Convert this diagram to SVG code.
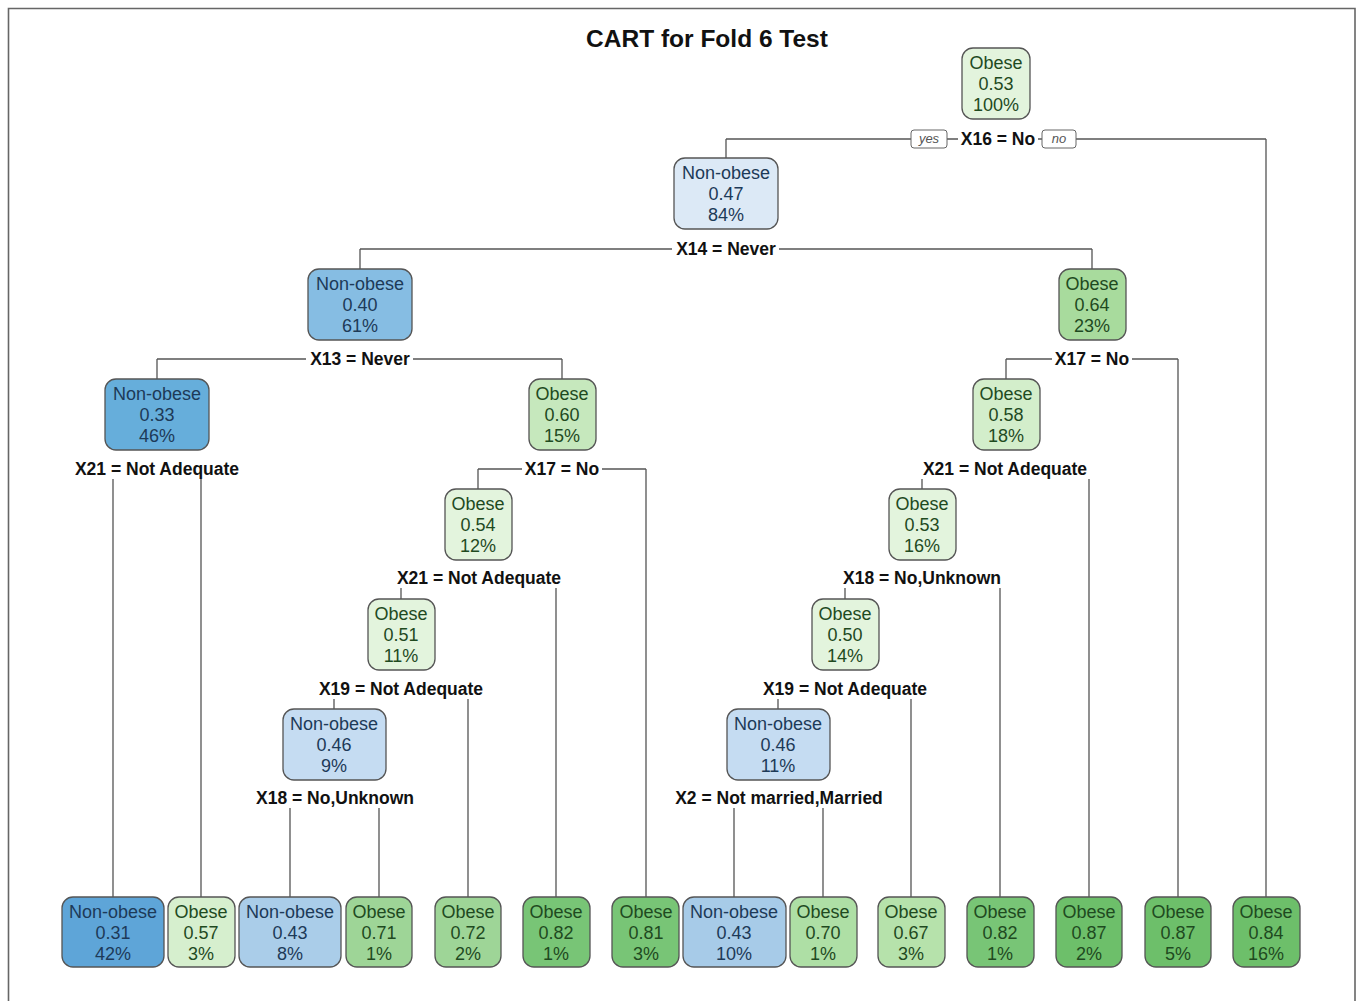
<svg xmlns="http://www.w3.org/2000/svg" width="1360" height="1001" viewBox="0 0 1360 1001">
<style>
.box{stroke:#555;stroke-width:1.3}
.tn{font-family:"Liberation Sans",Arial,sans-serif;font-size:18px;fill:#1d3a58;text-anchor:middle}
.to{font-family:"Liberation Sans",Arial,sans-serif;font-size:18px;fill:#1f4a1f;text-anchor:middle}
.split{font-family:"Liberation Sans",Arial,sans-serif;font-size:17.5px;font-weight:bold;fill:#111;text-anchor:middle}
.lbg{fill:#fff;stroke:none}
.edge{stroke:#555;stroke-width:1.3;fill:none}
.yn{fill:#fff;stroke:#666;stroke-width:1}
.ynt{font-family:"Liberation Sans",Arial,sans-serif;font-size:13px;font-style:italic;fill:#555;text-anchor:middle}
.title{font-family:"Liberation Sans",Arial,sans-serif;font-size:24.5px;font-weight:bold;fill:#111;text-anchor:middle}
</style>
<rect x="0" y="0" width="1360" height="1001" fill="#fff"/>
<path d="M8.5 1001 V8.5 H1355 V1001" fill="none" stroke="#666" stroke-width="1.6"/>
<text class="title" x="707" y="47">CART for Fold 6 Test</text>

<g id="connectors">
<path class="edge" d="M726 139 H1266 M726 139 V158 M1266 139 V897"/>
<path class="edge" d="M360 249 H1092 M360 249 V269 M1092 249 V269"/>
<path class="edge" d="M157 359 H562 M157 359 V379 M562 359 V379"/>
<path class="edge" d="M1006 359 H1178 M1006 359 V379 M1178 359 V897"/>
<path class="edge" d="M113 469 H201 M113 469 V897 M201 469 V897"/>
<path class="edge" d="M478 469 H646 M478 469 V489 M646 469 V897"/>
<path class="edge" d="M922 469 H1089 M922 469 V489 M1089 469 V897"/>
<path class="edge" d="M401 578 H556 M401 578 V599 M556 578 V897"/>
<path class="edge" d="M845 578 H1000 M845 578 V599 M1000 578 V897"/>
<path class="edge" d="M334 689 H468 M334 689 V709 M468 689 V897"/>
<path class="edge" d="M778 689 H911 M778 689 V709 M911 689 V897"/>
<path class="edge" d="M290 798 H379 M290 798 V897 M379 798 V897"/>
<path class="edge" d="M734 798 H823 M734 798 V897 M823 798 V897"/>
<g id="split-labels">
<rect class="lbg" x="958" y="129" width="80" height="20"/><text class="split" x="998" y="145">X16 = No</text>
<rect class="yn" x="911" y="130" width="36" height="18" rx="3"/><text class="ynt" x="929" y="143">yes</text>
<rect class="yn" x="1042" y="130" width="34" height="18" rx="3"/><text class="ynt" x="1059" y="143">no</text>
<rect class="lbg" x="672" y="239" width="107" height="20"/><text class="split" x="726" y="255">X14 = Never</text>
<rect class="lbg" x="306" y="349" width="107" height="20"/><text class="split" x="360" y="365">X13 = Never</text>
<rect class="lbg" x="1052" y="349" width="80" height="20"/><text class="split" x="1092" y="365">X17 = No</text>
<rect class="lbg" x="72" y="459" width="170" height="20"/><text class="split" x="157" y="475">X21 = Not Adequate</text>
<rect class="lbg" x="522" y="459" width="80" height="20"/><text class="split" x="562" y="475">X17 = No</text>
<rect class="lbg" x="920" y="459" width="170" height="20"/><text class="split" x="1005" y="475">X21 = Not Adequate</text>
<rect class="lbg" x="394" y="568" width="170" height="20"/><text class="split" x="479" y="584">X21 = Not Adequate</text>
<rect class="lbg" x="840" y="568" width="164" height="20"/><text class="split" x="922" y="584">X18 = No,Unknown</text>
<rect class="lbg" x="316" y="679" width="170" height="20"/><text class="split" x="401" y="695">X19 = Not Adequate</text>
<rect class="lbg" x="760" y="679" width="170" height="20"/><text class="split" x="845" y="695">X19 = Not Adequate</text>
<rect class="lbg" x="253" y="788" width="164" height="20"/><text class="split" x="335" y="804">X18 = No,Unknown</text>
<rect class="lbg" x="670" y="788" width="218" height="20"/><text class="split" x="779" y="804">X2 = Not married,Married</text>
</g>
</g>

<g id="n1"><rect class="box" x="962" y="48" width="68" height="71" rx="11" fill="#e3f4dd"/><text class="to"><tspan x="996" y="69">Obese</tspan><tspan x="996" y="90">0.53</tspan><tspan x="996" y="111">100%</tspan></text></g>
<g id="n2"><rect class="box" x="674" y="158" width="104" height="71" rx="11" fill="#dce9f6"/><text class="tn"><tspan x="726" y="179">Non-obese</tspan><tspan x="726" y="200">0.47</tspan><tspan x="726" y="221">84%</tspan></text></g>
<g id="n3"><rect class="box" x="308" y="269" width="104" height="71" rx="11" fill="#86bde3"/><text class="tn"><tspan x="360" y="290">Non-obese</tspan><tspan x="360" y="311">0.40</tspan><tspan x="360" y="332">61%</tspan></text></g>
<g id="n4"><rect class="box" x="1059" y="269" width="67" height="71" rx="11" fill="#a8db9d"/><text class="to"><tspan x="1092" y="290">Obese</tspan><tspan x="1092" y="311">0.64</tspan><tspan x="1092" y="332">23%</tspan></text></g>
<g id="n5"><rect class="box" x="105" y="379" width="104" height="71" rx="11" fill="#66aedb"/><text class="tn"><tspan x="157" y="400">Non-obese</tspan><tspan x="157" y="421">0.33</tspan><tspan x="157" y="442">46%</tspan></text></g>
<g id="n6"><rect class="box" x="529" y="379" width="67" height="71" rx="11" fill="#c6e8bd"/><text class="to"><tspan x="562" y="400">Obese</tspan><tspan x="562" y="421">0.60</tspan><tspan x="562" y="442">15%</tspan></text></g>
<g id="n7"><rect class="box" x="973" y="379" width="67" height="71" rx="11" fill="#d3eecb"/><text class="to"><tspan x="1006" y="400">Obese</tspan><tspan x="1006" y="421">0.58</tspan><tspan x="1006" y="442">18%</tspan></text></g>
<g id="n8"><rect class="box" x="445" y="489" width="67" height="71" rx="11" fill="#e3f4dd"/><text class="to"><tspan x="478" y="510">Obese</tspan><tspan x="478" y="531">0.54</tspan><tspan x="478" y="552">12%</tspan></text></g>
<g id="n9"><rect class="box" x="889" y="489" width="67" height="71" rx="11" fill="#e3f4dd"/><text class="to"><tspan x="922" y="510">Obese</tspan><tspan x="922" y="531">0.53</tspan><tspan x="922" y="552">16%</tspan></text></g>
<g id="n10"><rect class="box" x="368" y="599" width="67" height="71" rx="11" fill="#e3f4dd"/><text class="to"><tspan x="401" y="620">Obese</tspan><tspan x="401" y="641">0.51</tspan><tspan x="401" y="662">11%</tspan></text></g>
<g id="n11"><rect class="box" x="812" y="599" width="67" height="71" rx="11" fill="#e3f4dd"/><text class="to"><tspan x="845" y="620">Obese</tspan><tspan x="845" y="641">0.50</tspan><tspan x="845" y="662">14%</tspan></text></g>
<g id="n12"><rect class="box" x="283" y="709" width="103" height="71" rx="11" fill="#c5dcf2"/><text class="tn"><tspan x="334" y="730">Non-obese</tspan><tspan x="334" y="751">0.46</tspan><tspan x="334" y="772">9%</tspan></text></g>
<g id="n13"><rect class="box" x="727" y="709" width="103" height="71" rx="11" fill="#c5dcf2"/><text class="tn"><tspan x="778" y="730">Non-obese</tspan><tspan x="778" y="751">0.46</tspan><tspan x="778" y="772">11%</tspan></text></g>

<g id="leaf1"><rect class="box" x="62" y="897" width="102" height="70" rx="11" fill="#5ea5d8"/><text class="tn"><tspan x="113" y="918">Non-obese</tspan><tspan x="113" y="939">0.31</tspan><tspan x="113" y="960">42%</tspan></text></g>
<g id="leaf2"><rect class="box" x="168" y="897" width="67" height="70" rx="11" fill="#d6efce"/><text class="to"><tspan x="201" y="918">Obese</tspan><tspan x="201" y="939">0.57</tspan><tspan x="201" y="960">3%</tspan></text></g>
<g id="leaf3"><rect class="box" x="239" y="897" width="102" height="70" rx="11" fill="#aacde9"/><text class="tn"><tspan x="290" y="918">Non-obese</tspan><tspan x="290" y="939">0.43</tspan><tspan x="290" y="960">8%</tspan></text></g>
<g id="leaf4"><rect class="box" x="346" y="897" width="66" height="70" rx="11" fill="#9ed597"/><text class="to"><tspan x="379" y="918">Obese</tspan><tspan x="379" y="939">0.71</tspan><tspan x="379" y="960">1%</tspan></text></g>
<g id="leaf5"><rect class="box" x="435" y="897" width="66" height="70" rx="11" fill="#9ed597"/><text class="to"><tspan x="468" y="918">Obese</tspan><tspan x="468" y="939">0.72</tspan><tspan x="468" y="960">2%</tspan></text></g>
<g id="leaf6"><rect class="box" x="523" y="897" width="67" height="70" rx="11" fill="#78c576"/><text class="to"><tspan x="556" y="918">Obese</tspan><tspan x="556" y="939">0.82</tspan><tspan x="556" y="960">1%</tspan></text></g>
<g id="leaf7"><rect class="box" x="612" y="897" width="67" height="70" rx="11" fill="#78c576"/><text class="to"><tspan x="646" y="918">Obese</tspan><tspan x="646" y="939">0.81</tspan><tspan x="646" y="960">3%</tspan></text></g>
<g id="leaf8"><rect class="box" x="683" y="897" width="103" height="70" rx="11" fill="#a7cbe8"/><text class="tn"><tspan x="734" y="918">Non-obese</tspan><tspan x="734" y="939">0.43</tspan><tspan x="734" y="960">10%</tspan></text></g>
<g id="leaf9"><rect class="box" x="790" y="897" width="67" height="70" rx="11" fill="#aedfa5"/><text class="to"><tspan x="823" y="918">Obese</tspan><tspan x="823" y="939">0.70</tspan><tspan x="823" y="960">1%</tspan></text></g>
<g id="leaf10"><rect class="box" x="878" y="897" width="67" height="70" rx="11" fill="#b6e2ab"/><text class="to"><tspan x="911" y="918">Obese</tspan><tspan x="911" y="939">0.67</tspan><tspan x="911" y="960">3%</tspan></text></g>
<g id="leaf11"><rect class="box" x="967" y="897" width="67" height="70" rx="11" fill="#78c576"/><text class="to"><tspan x="1000" y="918">Obese</tspan><tspan x="1000" y="939">0.82</tspan><tspan x="1000" y="960">1%</tspan></text></g>
<g id="leaf12"><rect class="box" x="1056" y="897" width="66" height="70" rx="11" fill="#6dbf6a"/><text class="to"><tspan x="1089" y="918">Obese</tspan><tspan x="1089" y="939">0.87</tspan><tspan x="1089" y="960">2%</tspan></text></g>
<g id="leaf13"><rect class="box" x="1145" y="897" width="66" height="70" rx="11" fill="#6dbf6a"/><text class="to"><tspan x="1178" y="918">Obese</tspan><tspan x="1178" y="939">0.87</tspan><tspan x="1178" y="960">5%</tspan></text></g>
<g id="leaf14"><rect class="box" x="1233" y="897" width="67" height="70" rx="11" fill="#6dbf6a"/><text class="to"><tspan x="1266" y="918">Obese</tspan><tspan x="1266" y="939">0.84</tspan><tspan x="1266" y="960">16%</tspan></text></g>
</svg>
